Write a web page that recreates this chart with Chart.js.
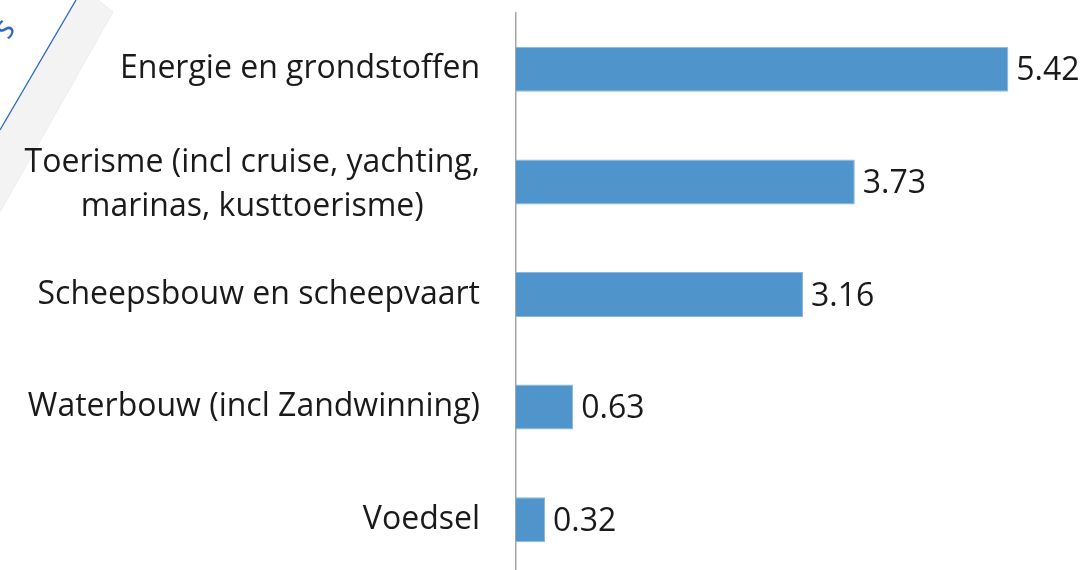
<!DOCTYPE html>
<html>
<head>
<meta charset="utf-8">
<script src="https://cdn.jsdelivr.net/npm/chart.js@4/dist/chart.umd.min.js"></script>
<style>
html,body{margin:0;padding:0;background:#fff;overflow:hidden;width:1085px;height:570px;}
#wrap{position:relative;width:1085px;height:576px;}
</style>
</head>
<body>
<div id="wrap"><canvas id="c"></canvas></div>
<script>
const categories = [
  ["Energie en grondstoffen"],
  ["Toerisme (incl cruise, yachting,", "marinas, kusttoerisme)"],
  ["Scheepsbouw en scheepvaart"],
  ["Waterbouw (incl Zandwinning)"],
  ["Voedsel"]
];
const values = [5.42, 3.73, 3.16, 0.63, 0.32];
const valueLabels = ["5.42", "3.73", "3.16", "0.63", "0.32"];

const FONT = '"Open Sans", "Noto Sans", sans-serif';
const FSIZE = 32;

const decoPlugin = {
  id: 'deco',
  beforeDraw(chart) {
    const ctx = chart.ctx;
    ctx.save();
    ctx.fillStyle = '#ffffff';
    ctx.fillRect(0, 0, chart.width, chart.height);
    // gray band
    ctx.beginPath();
    ctx.moveTo(76, 0); ctx.lineTo(98, 0); ctx.lineTo(113, 12);
    ctx.lineTo(0, 212); ctx.lineTo(0, 130); ctx.closePath();
    ctx.fillStyle = '#f3f3f3'; ctx.fill();
    ctx.beginPath(); ctx.moveTo(98, 0); ctx.lineTo(113, 12); ctx.lineTo(0, 212);
    ctx.strokeStyle = '#ededed'; ctx.lineWidth = 1; ctx.stroke();
    // blue line
    ctx.beginPath(); ctx.moveTo(76, 0); ctx.lineTo(0, 130);
    ctx.strokeStyle = '#2a66c4'; ctx.lineWidth = 1.3; ctx.stroke();
    // partial rotated blue text
    ctx.translate(5, 29);
    ctx.rotate(-Math.PI / 3);
    ctx.fillStyle = '#2a66c4';
    ctx.font = 'italic 32px ' + FONT;
    ctx.textAlign = 'center'; ctx.textBaseline = 'middle';
    ctx.fillText('s', 0, 0);
    ctx.restore();
  },
  afterDraw(chart) {
    const ctx = chart.ctx;
    const ys = chart.scales.y;
    const meta = chart.getDatasetMeta(0);
    ctx.save();
    ctx.font = FSIZE + 'px ' + FONT;
    ctx.fillStyle = '#1a1a1a';
    ctx.textBaseline = 'middle';
    const lineH = 44;
    categories.forEach((lines, i) => {
      const yc = ys.getPixelForValue(i) + (lines.length > 1 ? 3 : 0);
      const widths = lines.map(l => ctx.measureText(l).width);
      const maxW = Math.max(...widths);
      const rightX = 480;
      const cx = rightX - maxW / 2;
      const y0 = yc - (lines.length - 1) * lineH / 2;
      lines.forEach((l, j) => {
        ctx.textAlign = 'center';
        ctx.fillText(l, cx, y0 + j * lineH);
      });
      const bar = meta.data[i];
      ctx.textAlign = 'left';
      ctx.fillText(valueLabels[i], bar.x + 8, bar.y + 2);
    });
    ctx.restore();
  }
};

new Chart(document.getElementById('c'), {
  type: 'bar',
  data: {
    labels: categories,
    datasets: [{
      data: values,
      backgroundColor: '#4f94cb',
      borderColor: '#8db6d8',
      borderWidth: 1,
      categoryPercentage: 1,
      barPercentage: 0.4
    }]
  },
  options: {
    indexAxis: 'y',
    responsive: true,
    maintainAspectRatio: false,
    animation: false,
    layout: { padding: { top: 13, right: 24, bottom: 0, left: 0 } },
    plugins: { legend: { display: false }, tooltip: { enabled: false } },
    scales: {
      x: {
        min: 0, max: 6,
        display: false
      },
      y: {
        grid: { display: false, drawTicks: false },
        border: { display: true, color: '#a6a6a6', width: 1.5 },
        ticks: { display: false },
        afterFit(scale) { scale.width = 516; }
      }
    }
  },
  plugins: [decoPlugin]
});
</script>
</body>
</html>
